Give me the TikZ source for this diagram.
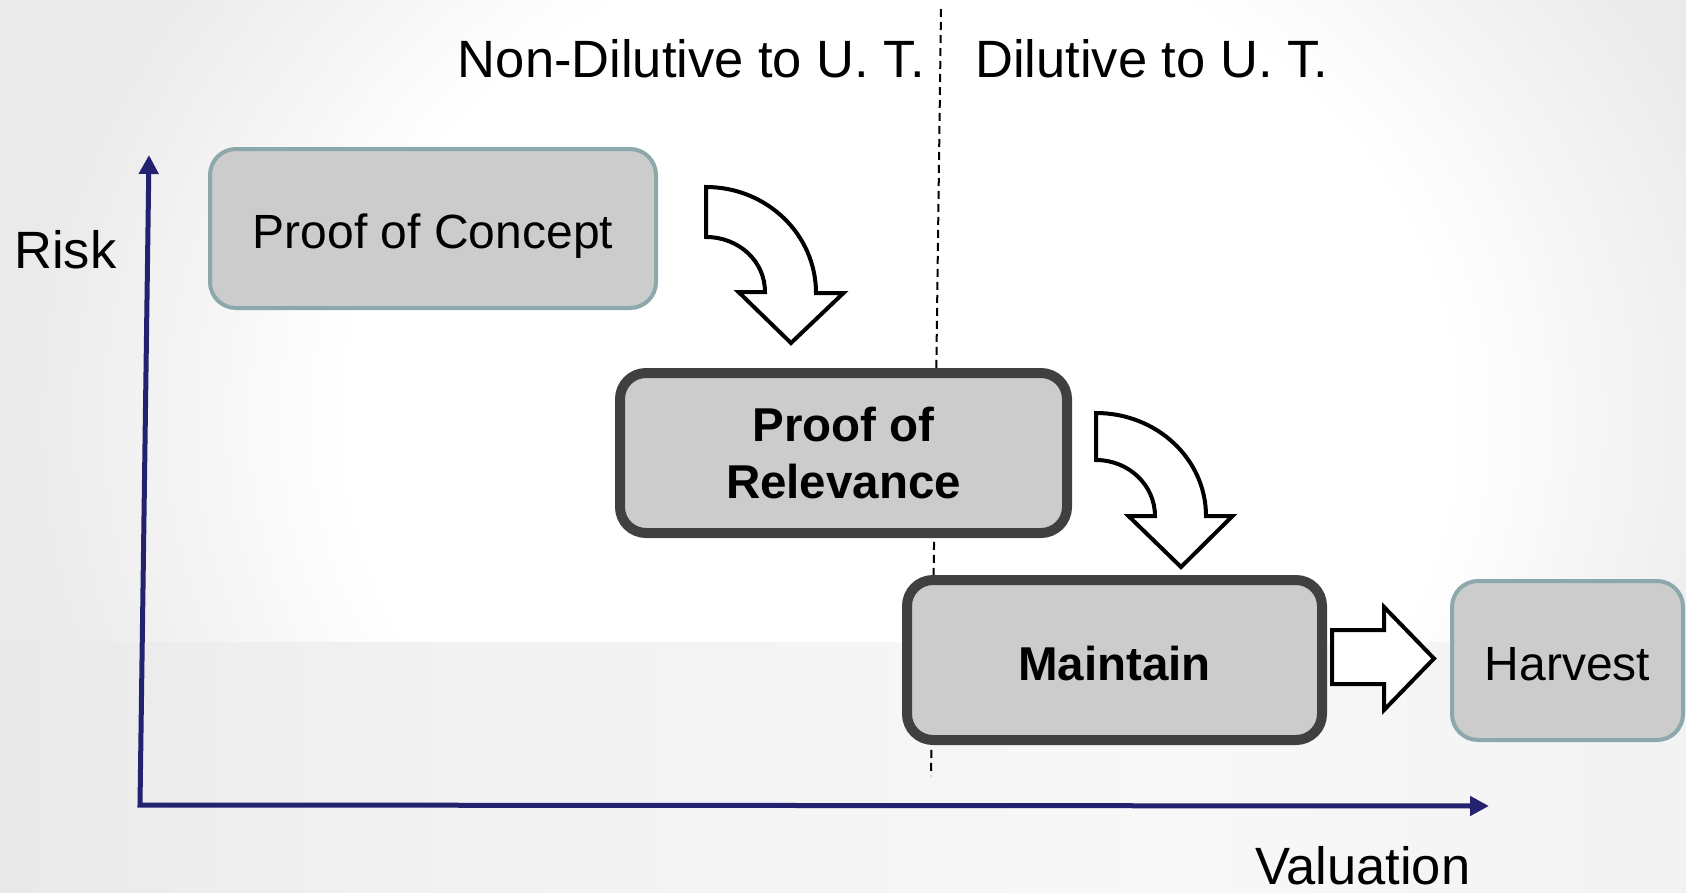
\documentclass[tikz,border=0pt]{standalone}
\usepackage{fontspec}
\setmainfont{Liberation Sans}
\usetikzlibrary{arrows.meta}
\definecolor{axisblue}{HTML}{222270}
\definecolor{boxfill}{HTML}{CCCCCC}
\definecolor{tealedge}{HTML}{8CA8AA}
\definecolor{darkedge}{HTML}{404040}
\definecolor{bgedge}{HTML}{EAEAEA}
\definecolor{bandA}{HTML}{D6D6D6}
\definecolor{bandB}{HTML}{F1F1F1}
\definecolor{bandC}{HTML}{F8F8F8}
\definecolor{bandD}{HTML}{E9E9E9}
% the path outline sits at 25bp of a radial shading
\pgfdeclareradialshading{bgglow}{\pgfpoint{0bp}{0bp}}{color(0bp)=(white); color(15bp)=(white); color(24bp)=(bgedge); color(50bp)=(bgedge)}
\pgfdeclarehorizontalshading{bandshade}{100bp}{color(0bp)=(bandA); color(36bp)=(bandB); color(60bp)=(bandC); color(100bp)=(bandD)}

\begin{document}
\begin{tikzpicture}[x=1pt,y=-1pt,
  lightbox/.style={draw=tealedge, line width=4pt, fill=boxfill, rounded corners=26pt,
    inner sep=0pt, align=center, font=\fontsize{48}{57}\selectfont},
  boldbox/.style={draw=darkedge, line width=10pt, fill=boxfill, rounded corners=26pt,
    inner sep=0pt, align=center, font=\fontsize{47.5}{57}\selectfont\bfseries},
  oneline/.style={text height=45pt, text depth=5pt},
  axtext/.style={inner sep=0pt, font=\fontsize{52.5}{62}\selectfont},
  blockarrow/.style={draw=black, line width=4pt, fill=white, line join=miter},
  axisline/.style={draw=axisblue, line width=5pt, line join=miter,
    {Triangle[length=19pt,width=19pt]}-{Triangle[length=19pt,width=19pt]}},
  divider/.style={draw=black, line width=2pt, dash pattern=on 8pt off 5pt}
]
\useasboundingbox (0,0) rectangle (1686,892);

% background: soft glow with a darker band along the bottom
\fill[bgedge] (0,0) rectangle (1686,892);
\begin{scope}
  \clip (0,0) rectangle (1686,892);
  \shade[shading=bgglow] (900,420) ellipse [x radius=920, y radius=800];
  \shade[shading=bandshade] (0,642) rectangle (1686,892);
\end{scope}

% divider between the two funding regimes
\coordinate (dtop) at (941,9);
\coordinate (dbot) at (931,776);
\draw[divider] (dtop) -- (dbot);

% axes
\coordinate (orig) at (140,805);
\coordinate (ytop) at (149,155);
\coordinate (xend) at (1489,806);
\draw[axisline] (ytop) -- (orig) -- (xend);

% stages
\node[lightbox, oneline, minimum width=446pt, minimum height=159pt] (poc) at (433,228.5) {Proof of Concept};
\node[boldbox, minimum width=447pt, minimum height=160pt] (por) at (843.5,453) {Proof of\\Relevance};
\node[boldbox, oneline, minimum width=415pt, minimum height=160pt] (maint) at (1114.5,660) {Maintain};
\node[lightbox, oneline, minimum width=231pt, minimum height=159pt] (harv) at (1567.5,660.5) {Harvest};

% block arrows between the stages
\draw[blockarrow] (706,187) .. controls (766.8,187) and (816,234.5) .. (816,293)
  -- (843.5,293) -- (791,343) -- (738.5,292) -- (765,292)
  .. controls (765,261) and (738.6,237) .. (706,237) -- cycle;
\draw[blockarrow] (1096,413) .. controls (1156.8,413) and (1206,459.1) .. (1206,516)
  -- (1232.5,516) -- (1181,567) -- (1128.5,516) -- (1155,516)
  .. controls (1155,485.1) and (1128.6,460) .. (1096,460) -- cycle;
\draw[blockarrow] (1332,630) -- (1384,630) -- (1384,607) -- (1434,658.5)
  -- (1384,710) -- (1384,684) -- (1332,684) -- cycle;

% labels
\node[axtext, anchor=base east] (nondil) at (925,77) {Non-Dilutive to U. T.};
\node[axtext, anchor=base west] (dil) at (975,77) {Dilutive to U. T.};
\node[axtext, anchor=base west] (risk) at (14,268) {Risk};
\node[axtext, anchor=base west] (val) at (1255,884) {Valuation};
\end{tikzpicture}
\end{document}
